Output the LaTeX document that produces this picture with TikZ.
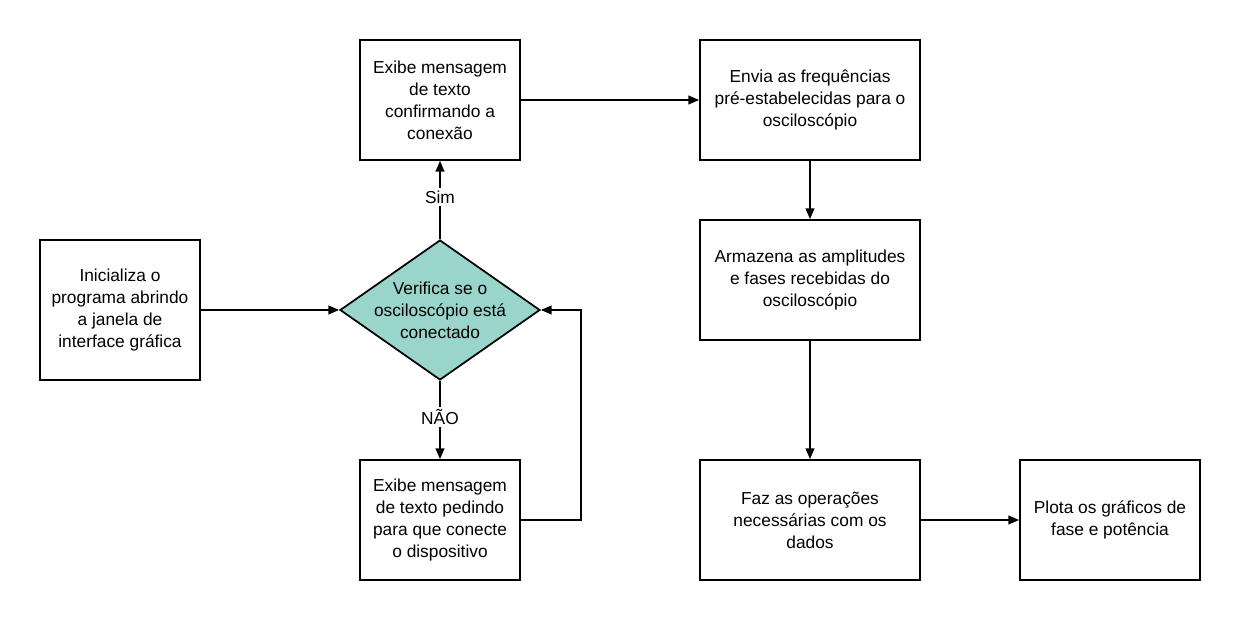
\documentclass[tikz,border=0pt]{standalone}
\usepackage{fontspec}
\setmainfont{Liberation Sans}
\usetikzlibrary{shapes.geometric, arrows.meta, positioning}
\definecolor{decisaocol}{HTML}{99D5CA}

\begin{document}
\begin{tikzpicture}[
  x=0.75pt, y=-0.75pt,
  font=\fontsize{13}{16.5}\selectfont,
  caixa/.style={draw, line width=1.3pt, fill=white, minimum width=#1,
                minimum height=90pt, align=center, inner sep=2pt},
  decisao/.style={draw, line width=1.3pt, fill=decisaocol, diamond,
                  minimum width=150pt, minimum height=105pt, inner sep=0pt},
  seta/.style={-{Triangle[length=8pt, width=6.5pt]}, line width=1.3pt},
  rotulo/.style={fill=white, inner sep=2pt},
]
\useasboundingbox (0,0) rectangle (1241,620);

% coluna da esquerda
\node[caixa=120pt, minimum height=105pt] (ini) at (120,310)
  {Inicializa o\\programa abrindo\\a janela de\\interface gráfica};

% decisao
\node[decisao, label={[align=center]center:Verifica se o\\osciloscópio está\\conectado}]
  (ver) at (440,310) {};

\node[caixa=120pt] (conf) at (440,100)
  {Exibe mensagem\\de texto\\confirmando a\\conexão};
\node[caixa=120pt] (pede) at (440,520)
  {Exibe mensagem\\de texto pedindo\\para que conecte\\o dispositivo};

% coluna da direita
\node[caixa=165pt] (envia) at (810,100)
  {Envia as frequências\\pré-estabelecidas para o\\osciloscópio};
\node[caixa=165pt] (armaz) at (810,280)
  {Armazena as amplitudes\\e fases recebidas do\\osciloscópio};
\node[caixa=165pt] (faz) at (810,520)
  {Faz as operações\\necessárias com os\\dados};
\node[caixa=135pt] (plota) at (1110,520)
  {Plota os gráficos de\\fase e potência};

% setas
\draw[seta] (ini.east) -- (ver.west);
\draw[seta] (ver.north) -- node[rotulo, pos=0.54] {Sim} (conf.south);
\draw[seta] (ver.south) -- node[rotulo, pos=0.46] {NÃO} (pede.north);
\draw[seta] (pede.east) -- ++(60,0) |- (ver.east);
\draw[seta] (conf.east) -- (envia.west);
\draw[seta] (envia.south) -- (armaz.north);
\draw[seta] (armaz.south) -- (faz.north);
\draw[seta] (faz.east) -- (plota.west);

\end{tikzpicture}
\end{document}
